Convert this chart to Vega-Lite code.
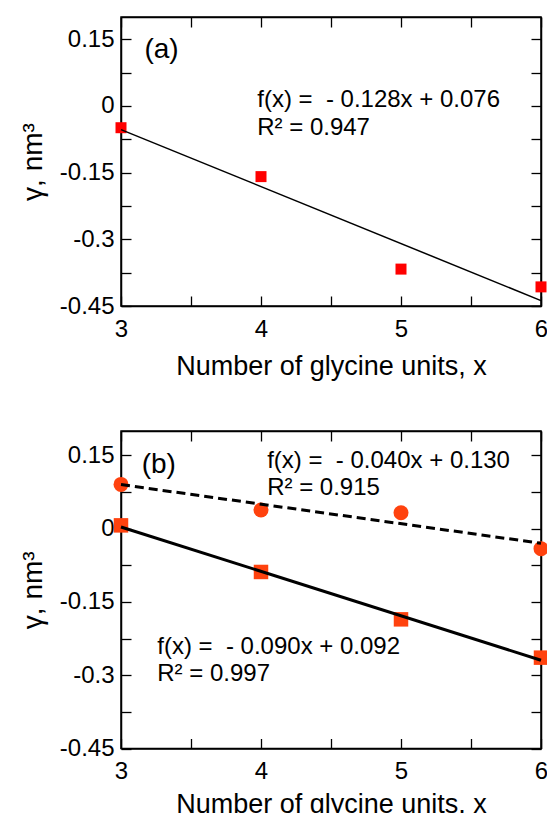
{
  "$schema": "https://vega.github.io/schema/vega-lite/v6.json",
  "background": "white",
  "padding": {"left": 18, "top": 15, "right": 0, "bottom": 0},
  "spacing": 48,
  "config": {
    "font": "Liberation Sans",
    "view": {"stroke": "black", "strokeWidth": 1.5},
    "axis": {
      "grid": false,
      "domainColor": "black",
      "domainWidth": 1.5,
      "tickColor": "black",
      "tickWidth": 1.3,
      "tickSize": -10,
      "labelFont": "Liberation Sans",
      "labelFontSize": 24,
      "labelColor": "black",
      "titleFont": "Liberation Sans",
      "titleFontSize": 27,
      "titleFontWeight": "normal",
      "titleColor": "black",
      "labelFlush": false,
      "labelOverlap": false
    },
    "text": {"font": "Liberation Sans", "color": "black"}
  },
  "datasets": {
    "panelA": [
      {"x": 3, "gamma": -0.049},
      {"x": 4, "gamma": -0.159},
      {"x": 5, "gamma": -0.367},
      {"x": 6, "gamma": -0.407}
    ],
    "panelB": [
      {"x": 3, "gamma": 0.0068, "series": "squares"},
      {"x": 4, "gamma": -0.0886, "series": "squares"},
      {"x": 5, "gamma": -0.1856, "series": "squares"},
      {"x": 6, "gamma": -0.264, "series": "squares"},
      {"x": 3, "gamma": 0.0907, "series": "circles"},
      {"x": 4, "gamma": 0.0383, "series": "circles"},
      {"x": 5, "gamma": 0.0327, "series": "circles"},
      {"x": 6, "gamma": -0.0409, "series": "circles"}
    ],
    "note": [{}]
  },
  "vconcat": [
    {
      "width": 420,
      "height": 289,
      "resolve": {"axis": {"x": "independent", "y": "independent"}},
      "layer": [
        {
          "data": {"name": "panelA"},
          "mark": {"type": "square", "filled": true, "color": "#ff0000", "size": 121, "opacity": 1},
          "encoding": {
            "x": {"field": "x", "type": "quantitative", "scale": {"domain": [3, 6], "nice": false, "zero": false},
              "axis": {"orient": "bottom", "values": [3, 3.5, 4, 4.5, 5, 5.5, 6], "labelExpr": "datum.value % 1 == 0 ? '' + datum.value : ''", "labelFontSize": 24, "labelPadding": 21.6, "title": "Number of glycine units, x", "titlePadding": 12}},
            "y": {"field": "gamma", "type": "quantitative", "scale": {"domain": [-0.45, 0.2], "nice": false, "zero": false},
              "axis": {"orient": "left", "values": [-0.45, -0.375, -0.3, -0.225, -0.15, -0.075, 0, 0.075, 0.15], "labelExpr": "abs(datum.value/0.15 - round(datum.value/0.15)) < 0.01 ? (datum.value < 0 ? '-' : '') + format(abs(datum.value), '.2~f') : ''", "labelFontSize": 24, "labelPadding": 17, "title": "γ, nm³", "titleFontSize": 28, "titlePadding": 12}}
          }
        },
        {
          "data": {"name": "panelA"},
          "transform": [{"regression": "gamma", "on": "x", "extent": [3, 6]}],
          "mark": {"type": "line", "color": "black", "strokeWidth": 1.5},
          "encoding": {
            "x": {"field": "x", "type": "quantitative", "axis": {"orient": "top", "values": [3, 3.5, 4, 4.5, 5, 5.5, 6], "labels": false, "title": null}},
            "y": {"field": "gamma", "type": "quantitative", "axis": {"orient": "right", "values": [-0.45, -0.375, -0.3, -0.225, -0.15, -0.075, 0, 0.075, 0.15], "labels": false, "title": null}}
          }
        },
        {
          "data": {"name": "note"},
          "mark": {"type": "text", "align": "left", "baseline": "alphabetic", "fontSize": 28},
          "encoding": {
            "x": {"datum": 3.167, "type": "quantitative", "axis": null},
            "y": {"datum": 0.1077, "type": "quantitative", "axis": null},
            "text": {"value": "(a)"}
          }
        },
        {
          "data": {"name": "note"},
          "mark": {"type": "text", "align": "left", "baseline": "alphabetic", "fontSize": 24, "lineHeight": 28},
          "encoding": {
            "x": {"datum": 3.973, "type": "quantitative", "axis": null},
            "y": {"datum": -0.0013, "type": "quantitative", "axis": null},
            "text": {"value": ["f(x) =\u00a0 - 0.128x + 0.076", "R² = 0.947"]}
          }
        }
      ]
    },
    {
      "width": 420,
      "height": 317.5,
      "resolve": {"axis": {"x": "independent", "y": "independent"}},
      "layer": [
        {
          "data": {"name": "panelB"},
          "transform": [{"filter": "datum.series == 'squares'"}],
          "mark": {"type": "square", "filled": true, "color": "#ff420e", "size": 210, "opacity": 1},
          "encoding": {
            "x": {"field": "x", "type": "quantitative", "scale": {"domain": [3, 6], "nice": false, "zero": false},
              "axis": {"orient": "bottom", "values": [3, 3.5, 4, 4.5, 5, 5.5, 6], "labelExpr": "datum.value % 1 == 0 ? '' + datum.value : ''", "labelFontSize": 24, "labelPadding": 20.5, "title": "Number of glycine units, x", "titlePadding": 8.6}},
            "y": {"field": "gamma", "type": "quantitative", "scale": {"domain": [-0.45, 0.2], "nice": false, "zero": false},
              "axis": {"orient": "left", "values": [-0.45, -0.375, -0.3, -0.225, -0.15, -0.075, 0, 0.075, 0.15], "labelExpr": "abs(datum.value/0.15 - round(datum.value/0.15)) < 0.01 ? (datum.value < 0 ? '-' : '') + format(abs(datum.value), '.2~f') : ''", "labelFontSize": 24, "labelPadding": 17, "title": "γ, nm³", "titleFontSize": 28, "titlePadding": 12}}
          }
        },
        {
          "data": {"name": "panelB"},
          "transform": [{"filter": "datum.series == 'circles'"}],
          "mark": {"type": "circle", "color": "#ff420e", "size": 225, "opacity": 1},
          "encoding": {
            "x": {"field": "x", "type": "quantitative", "axis": null},
            "y": {"field": "gamma", "type": "quantitative", "axis": null}
          }
        },
        {
          "data": {"name": "panelB"},
          "transform": [{"filter": "datum.series == 'squares'"}, {"regression": "gamma", "on": "x", "extent": [3, 6]}],
          "mark": {"type": "line", "color": "black", "strokeWidth": 3},
          "encoding": {
            "x": {"field": "x", "type": "quantitative", "axis": {"orient": "top", "values": [3, 3.5, 4, 4.5, 5, 5.5, 6], "labels": false, "title": null}},
            "y": {"field": "gamma", "type": "quantitative", "axis": {"orient": "right", "values": [-0.45, -0.375, -0.3, -0.225, -0.15, -0.075, 0, 0.075, 0.15], "labels": false, "title": null}}
          }
        },
        {
          "data": {"name": "panelB"},
          "transform": [{"filter": "datum.series == 'circles'"}, {"regression": "gamma", "on": "x", "extent": [3, 6]}],
          "mark": {"type": "line", "color": "black", "strokeWidth": 3, "strokeDash": [9, 5]},
          "encoding": {
            "x": {"field": "x", "type": "quantitative", "axis": null},
            "y": {"field": "gamma", "type": "quantitative", "axis": null}
          }
        },
        {
          "data": {"name": "note"},
          "mark": {"type": "text", "align": "left", "baseline": "alphabetic", "fontSize": 28},
          "encoding": {
            "x": {"datum": 3.148, "type": "quantitative", "axis": null},
            "y": {"datum": 0.1146, "type": "quantitative", "axis": null},
            "text": {"value": "(b)"}
          }
        },
        {
          "data": {"name": "note"},
          "mark": {"type": "text", "align": "left", "baseline": "alphabetic", "fontSize": 24, "lineHeight": 27},
          "encoding": {
            "x": {"datum": 4.044, "type": "quantitative", "axis": null},
            "y": {"datum": 0.1248, "type": "quantitative", "axis": null},
            "text": {"value": ["f(x) =\u00a0 - 0.040x + 0.130", "R² = 0.915"]}
          }
        },
        {
          "data": {"name": "note"},
          "mark": {"type": "text", "align": "left", "baseline": "alphabetic", "fontSize": 24, "lineHeight": 27},
          "encoding": {
            "x": {"datum": 3.259, "type": "quantitative", "axis": null},
            "y": {"datum": -0.2572, "type": "quantitative", "axis": null},
            "text": {"value": ["f(x) =\u00a0 - 0.090x + 0.092", "R² = 0.997"]}
          }
        }
      ]
    }
  ]
}
